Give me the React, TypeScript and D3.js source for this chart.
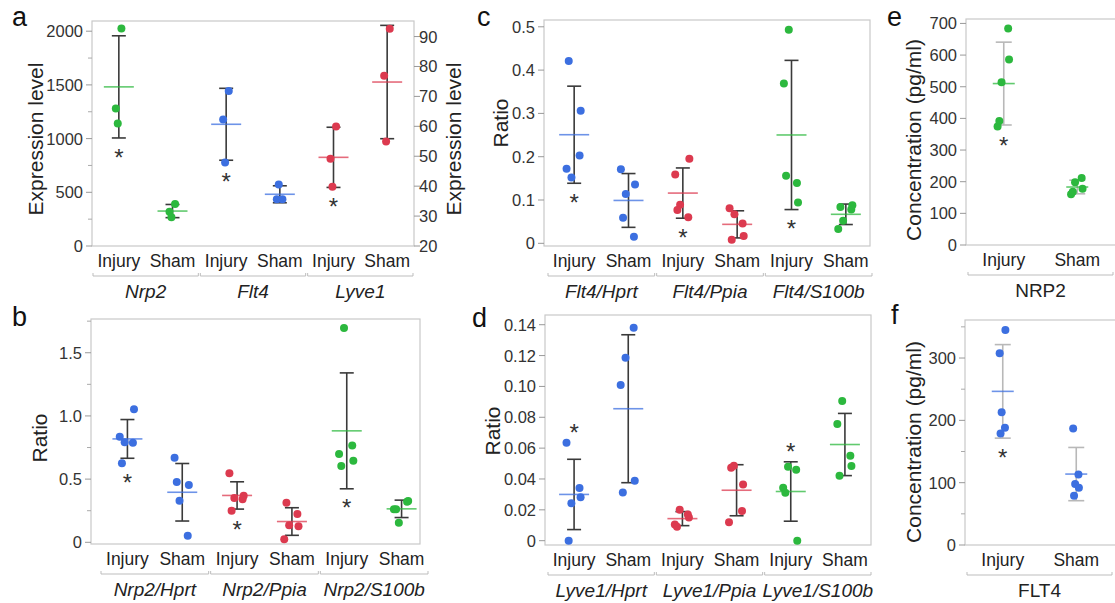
import React from "react";
import * as d3 from "d3";

const CONDITIONS = ["Injury", "Sham"];

const GREEN = "#2cb83e";
const BLUE = "#3c6fe0";
const RED = "#dc3a4f";

// a: expression level (Lyve1 on right axis)
const genesA = ["Nrp2", "Flt4", "Lyve1"];
const nrp2Injury = [2025, 1280, 1140];
const nrp2Sham = [390, 318, 268];
const flt4Injury = [1443, 1179, 778];
const flt4Sham = [436, 436, 573];
const lyve1Injury = [59.9, 49.2, 39.8];
const lyve1Sham = [92.6, 76.9, 54.9];
const ticksA = [0, 500, 1000, 1500, 2000];
const ticksARight = [20, 30, 40, 50, 60, 70, 80, 90];

// b: Nrp2 ratios
const refsB = ["Nrp2/Hprt", "Nrp2/Ppia", "Nrp2/S100b"];
const nrp2HprtInjury = [1.052, 0.835, 0.791, 0.788, 0.625];
const nrp2HprtSham = [0.453, 0.669, 0.329, 0.052, 0.477];
const nrp2PpiaInjury = [0.368, 0.546, 0.35, 0.34, 0.25];
const nrp2PpiaSham = [0.127, 0.024, 0.134, 0.224, 0.313];
const nrp2S100bInjury = [0.646, 0.698, 1.695, 0.767, 0.604];
const nrp2S100bSham = [0.327, 0.261, 0.155, 0.32, 0.261];
const ticksB = [0, 0.5, 1.0, 1.5];

// c: Flt4 ratios
const refsC = ["Flt4/Hprt", "Flt4/Ppia", "Flt4/S100b"];
const flt4HprtInjury = [0.306, 0.172, 0.152, 0.203, 0.421];
const flt4HprtSham = [0.136, 0.171, 0.114, 0.015, 0.059];
const flt4PpiaInjury = [0.195, 0.159, 0.089, 0.06, 0.077];
const flt4PpiaSham = [0.017, 0.081, 0.067, 0.046, 0.008];
const flt4S100bInjury = [0.094, 0.369, 0.493, 0.139, 0.156];
const flt4S100bSham = [0.088, 0.033, 0.052, 0.078, 0.084];
const ticksC = [0, 0.1, 0.2, 0.3, 0.4, 0.5];

// d: Lyve1 ratios
const refsD = ["Lyve1/Hprt", "Lyve1/Ppia", "Lyve1/S100b"];
const lyve1HprtInjury = [0.0281, 0.0635, 0.0242, 0.0341, 0];
const lyve1HprtSham = [0.0389, 0.1009, 0.1186, 0.138, 0.0313];
const lyve1PpiaInjury = [0.015, 0.0105, 0.02, 0.017, 0.009];
const lyve1PpiaSham = [0.0365, 0.0119, 0.0486, 0.0192, 0.0473];
const lyve1S100bInjury = [0, 0.0343, 0.048, 0.046, 0.0311];
const lyve1S100bSham = [0.0484, 0.0756, 0.0905, 0.0551, 0.0421];
const ticksD = [0, 0.02, 0.04, 0.06, 0.08, 0.1, 0.12, 0.14];

// e, f: serum concentration (pg/ml)
const NRP2Injury = [586, 374, 514, 684, 392];
const NRP2Sham = [178, 160, 198, 212, 168];
const FLT4Injury = [345, 307.5, 213, 188, 179];
const FLT4Sham = [92, 187, 98, 113, 79];
const ticksE = [0, 100, 200, 300, 400, 500, 600, 700];
const ticksF = [0, 100, 200, 300];

const JITTER = [0.12, -0.14, -0.05, 0.1, -0.1];
const FONT = "'Liberation Sans', Arial, sans-serif";
const STAR_SIZE = 24;

type Group = {
  name: string;
  color: string;
  values: number[][];
  star?: string | null;
  right?: boolean;
};

const panels = [
  {
    letter: "a", lx: 12, ly: 26,
    box: { x0: 92, x1: 414, y0: 21, y1: 246 }, band: [92, 414],
    yDomain: [0, 2095], ticks: ticksA, minor: 250, dec: 0,
    rightDomain: [20, 95.2], rightTicks: ticksARight,
    title: "Expression level", tx: 35, ty: 139, rtx: 453,
    italic: true, jitter: 0.4, err: "#3a3a3a", meanW: 30, capW: 14,
    groups: [
      { name: genesA[0], color: GREEN, values: [nrp2Injury, nrp2Sham], star: "below" },
      { name: genesA[1], color: BLUE, values: [flt4Injury, flt4Sham], star: "below" },
      { name: genesA[2], color: RED, values: [lyve1Injury, lyve1Sham], star: "below", right: true },
    ] as Group[],
  },
  {
    letter: "b", lx: 12, ly: 326,
    box: { x0: 91, x1: 420, y0: 319, y1: 544 }, band: [100, 429],
    yDomain: [-0.0134, 1.767], ticks: ticksB, minor: 0.25, dec: 1,
    title: "Ratio", tx: 39, ty: 438,
    italic: true, jitter: 1, err: "#3a3a3a", meanW: 30, capW: 14,
    groups: [
      { name: refsB[0], color: BLUE, values: [nrp2HprtInjury, nrp2HprtSham], star: "below" },
      { name: refsB[1], color: RED, values: [nrp2PpiaInjury, nrp2PpiaSham], star: "below" },
      { name: refsB[2], color: GREEN, values: [nrp2S100bInjury, nrp2S100bSham], star: "below" },
    ] as Group[],
  },
  {
    letter: "c", lx: 477, ly: 26,
    box: { x0: 544, x1: 870, y0: 20, y1: 246 }, band: [547, 873],
    yDomain: [-0.0062, 0.5157], ticks: ticksC, minor: 0, dec: 1,
    title: "Ratio", tx: 500, ty: 123,
    italic: true, jitter: 1, err: "#3a3a3a", meanW: 30, capW: 14,
    groups: [
      { name: refsC[0], color: BLUE, values: [flt4HprtInjury, flt4HprtSham], star: "below" },
      { name: refsC[1], color: RED, values: [flt4PpiaInjury, flt4PpiaSham], star: "below" },
      { name: refsC[2], color: GREEN, values: [flt4S100bInjury, flt4S100bSham], star: "below" },
    ] as Group[],
  },
  {
    letter: "d", lx: 472, ly: 327,
    box: { x0: 545, x1: 871, y0: 315, y1: 545 }, band: [547, 872],
    yDomain: [-0.0028, 0.1463], ticks: ticksD, minor: 0, dec: 2,
    title: "Ratio", tx: 492, ty: 431,
    italic: true, jitter: 1, err: "#3a3a3a", meanW: 30, capW: 14,
    groups: [
      { name: refsD[0], color: BLUE, values: [lyve1HprtInjury, lyve1HprtSham], star: "above" },
      { name: refsD[1], color: RED, values: [lyve1PpiaInjury, lyve1PpiaSham], star: null },
      { name: refsD[2], color: GREEN, values: [lyve1S100bInjury, lyve1S100bSham], star: "above" },
    ] as Group[],
  },
  {
    letter: "e", lx: 887, ly: 26,
    box: { x0: 966, x1: 1117, y0: 19, y1: 245 }, band: [967, 1114],
    yDomain: [0, 714], ticks: ticksE, minor: 0, dec: 0,
    title: "Concentration (pg/ml)", tx: 913, ty: 140,
    italic: false, jitter: 0.6, err: "#b8b8b8", meanW: 22, capW: 16,
    groups: [
      { name: "NRP2", color: GREEN, values: [NRP2Injury, NRP2Sham], star: "below" },
    ] as Group[],
  },
  {
    letter: "f", lx: 891, ly: 324,
    box: { x0: 965, x1: 1117, y0: 320, y1: 545 }, band: [966, 1113],
    yDomain: [0, 361], ticks: ticksF, minor: 50, dec: 0,
    title: "Concentration (pg/ml)", tx: 913, ty: 442,
    italic: false, jitter: 0.3, err: "#b8b8b8", meanW: 22, capW: 16,
    groups: [
      { name: "FLT4", color: BLUE, values: [FLT4Injury, FLT4Sham], star: "below" },
    ] as Group[],
  },
];

const fmt = (dec: number) => (v: number) => (v === 0 ? "0" : v.toFixed(dec));

function Panel({ p }: { p: any }) {
  const cats = p.groups.flatMap((g: Group) => CONDITIONS.map((c) => g.name + "|" + c));
  const x = d3.scaleBand<string>().domain(cats).range(p.band);
  const bw = x.bandwidth();
  const y = d3.scaleLinear().domain(p.yDomain).range([p.box.y1, p.box.y0]);
  const yR = p.rightDomain
    ? d3.scaleLinear().domain(p.rightDomain).range([p.box.y1, p.box.y0])
    : null;
  const f = fmt(p.dec);
  const { x0, x1, y0, y1 } = p.box;

  const minorTicks: number[] = [];
  if (p.minor) {
    const top = y.invert(y0);
    for (let v = p.minor; v < top; v += p.minor * 2) minorTicks.push(v);
  }

  return (
    <g>
      <text x={p.lx} y={p.ly} fontSize={27} fontFamily={FONT} fill="#111">{p.letter}</text>
      <rect x={x0} y={y0} width={x1 - x0} height={y1 - y0} fill="none" stroke="#c9c9c9" strokeWidth={1.2} />

      {/* left axis */}
      <g fontFamily={FONT} fontSize={16.5} fill="#333">
        {p.ticks.map((t: number) => (
          <g key={"t" + t}>
            <line x1={x0 - 6} x2={x0} y1={y(t)} y2={y(t)} stroke="#999" />
            <text x={x0 - 9} y={y(t)} textAnchor="end" dominantBaseline="central">{f(t)}</text>
          </g>
        ))}
        {minorTicks.map((t) => (
          <line key={"m" + t} x1={x0 - 4} x2={x0} y1={y(t)} y2={y(t)} stroke="#aaa" />
        ))}
      </g>
      <text
        transform={`translate(${p.tx},${p.ty}) rotate(-90)`}
        textAnchor="middle" dominantBaseline="central"
        fontFamily={FONT} fontSize={21} fill="#222"
      >{p.title}</text>

      {yR && (
        <g fontFamily={FONT} fontSize={16.5} fill="#333">
          {p.rightTicks.map((t: number) => (
            <g key={"r" + t}>
              <line x1={x1} x2={x1 + 6} y1={yR(t)} y2={yR(t)} stroke="#999" />
              <text x={x1 + 5} y={yR(t)} dominantBaseline="central">{t}</text>
            </g>
          ))}
          <text
            transform={`translate(${p.rtx},${p.ty}) rotate(-90)`}
            textAnchor="middle" dominantBaseline="central"
            fontSize={21} fill="#222"
          >{p.title}</text>
        </g>
      )}

      {/* x axis labels */}
      <g fontFamily={FONT} fill="#222">
        {cats.map((c: string) => (
          <text key={c} x={(x(c) as number) + bw / 2} y={y1 + 14.5} fontSize={17.5}
            textAnchor="middle" dominantBaseline="central">{c.split("|")[1]}</text>
        ))}
        {p.groups.map((g: Group) => {
          const a = x(g.name + "|" + CONDITIONS[0]) as number;
          const b = (x(g.name + "|" + CONDITIONS[1]) as number) + bw;
          const ly = y1 + 30;
          return (
            <g key={g.name}>
              <path d={`M${a + 1},${ly - 3}V${ly}H${b - 1}V${ly - 3}`} fill="none" stroke="#bdbdbd" />
              <text x={(a + b) / 2} y={y1 + 45} fontSize={19} textAnchor="middle"
                dominantBaseline="central" fontStyle={p.italic ? "italic" : "normal"}>{g.name}</text>
            </g>
          );
        })}
      </g>

      {/* marks */}
      {p.groups.map((g: Group) =>
        g.values.map((vals, ci) => {
          const sc = g.right && yR ? yR : y;
          const cx = (x(g.name + "|" + CONDITIONS[ci]) as number) + bw / 2;
          const m = d3.mean(vals) as number;
          const sd = d3.deviation(vals) as number;
          const lo = m - sd;
          const hi = m + sd;
          let star = null;
          if (ci === 0 && g.star === "below") {
            star = sc(Math.min(lo, d3.min(vals) as number)) + 14;
          } else if (ci === 0 && g.star === "above") {
            star = sc(Math.max(hi, d3.max(vals) as number)) - 15;
          }
          return (
            <g key={g.name + ci}>
              <g stroke={p.err} strokeWidth={1.6}>
                <line x1={cx} x2={cx} y1={sc(lo)} y2={sc(hi)} />
                <line x1={cx - p.capW / 2} x2={cx + p.capW / 2} y1={sc(lo)} y2={sc(lo)} />
                <line x1={cx - p.capW / 2} x2={cx + p.capW / 2} y1={sc(hi)} y2={sc(hi)} />
              </g>
              <line x1={cx - p.meanW / 2} x2={cx + p.meanW / 2} y1={sc(m)} y2={sc(m)}
                stroke={g.color} strokeOpacity={0.75} strokeWidth={1.6} />
              {vals.map((v, i) => (
                <circle key={i} cx={cx + JITTER[i % JITTER.length] * bw * p.jitter} cy={sc(v)} r={4} fill={g.color} />
              ))}
              {star !== null && (
                <text x={cx} y={star} dy={STAR_SIZE * 0.57} textAnchor="middle" fontFamily={FONT}
                  fontSize={STAR_SIZE} fill="#333">*</text>
              )}
            </g>
          );
        })
      )}
    </g>
  );
}

export default function App() {
  return (
    <svg width={1115} height={603} style={{ position: "absolute", left: 0, top: 0, background: "#fff" }}>
      {panels.map((p) => (
        <Panel key={p.letter} p={p} />
      ))}
    </svg>
  );
}
